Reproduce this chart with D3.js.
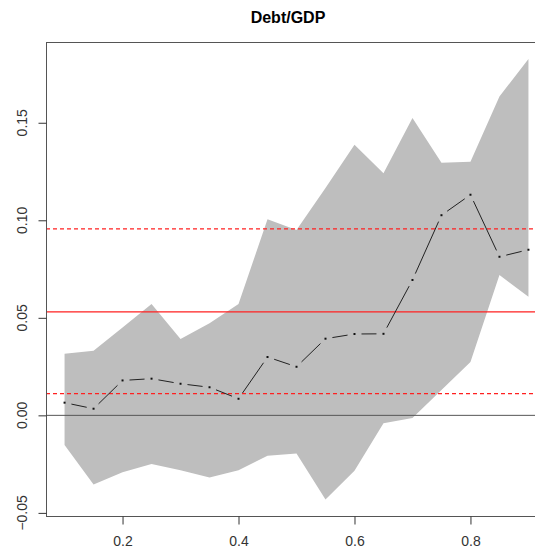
<!DOCTYPE html>
<html>
<head>
<meta charset="utf-8">
<script src="https://cdn.jsdelivr.net/npm/d3@7"></script>
<style>
    body { margin: 0; background: #fff; }
    svg { display: block; font-family: 'Liberation Sans', Arial, sans-serif; }
</style>
</head>
<body>
<div id="chart"></div>
<script>
// Quantile regression coefficients for Debt/GDP
const taus = [0.1, 0.15, 0.2, 0.25, 0.3, 0.35, 0.4, 0.45, 0.5, 0.55, 0.6, 0.65, 0.7, 0.75, 0.8, 0.85, 0.9];
const coef = [0.0065, 0.0034, 0.0179, 0.0188, 0.0162, 0.0144, 0.0085, 0.0299, 0.0249, 0.0393, 0.0417, 0.0418, 0.0694, 0.1026, 0.1131, 0.0813, 0.0849];
const upper = [0.0316, 0.0331, 0.0450, 0.0571, 0.0391, 0.0472, 0.0571, 0.1005, 0.0950, 0.1165, 0.1387, 0.1241, 0.1525, 0.1295, 0.1300, 0.1635, 0.1827];
const lower = [-0.0152, -0.0354, -0.0292, -0.0250, -0.0281, -0.0318, -0.0281, -0.0207, -0.0195, -0.0431, -0.0284, -0.0041, -0.0014, 0.0130, 0.0273, 0.0719, 0.0608];
// OLS estimate and its confidence bounds
const olsCoef = 0.053;
const olsBounds = [0.0111, 0.0956];
const xTicks = [0.2, 0.4, 0.6, 0.8];
const yTicks = [-0.05, 0, 0.05, 0.1, 0.15];

const width = 535, height = 550;
const plot = { left: 46, top: 42, right: 547, bottom: 516 };

const svg = d3.select("#chart").append("svg")
    .attr("width", width)
    .attr("height", height);

const x = d3.scaleLinear().domain([0.068, 0.932]).range([plot.left, plot.right]);
const y = d3.scaleLinear().domain([-0.0516, 0.1914]).range([plot.bottom, plot.top]);

svg.append("clipPath").attr("id", "plotclip")
    .append("rect")
    .attr("x", plot.left).attr("y", plot.top)
    .attr("width", plot.right - plot.left).attr("height", plot.bottom - plot.top);

const g = svg.append("g").attr("clip-path", "url(#plotclip)");

// confidence band
const area = d3.area()
    .x((d, i) => x(taus[i]))
    .y0((d, i) => y(lower[i]))
    .y1((d, i) => y(upper[i]));

g.append("path")
    .datum(taus)
    .attr("d", area)
    .attr("fill", "#bebebe");

// zero line
g.append("line")
    .attr("x1", plot.left).attr("x2", plot.right)
    .attr("y1", y(0)).attr("y2", y(0))
    .attr("stroke", "#555")
    .attr("stroke-width", 1);

// OLS line and bounds
g.append("line")
    .attr("x1", plot.left).attr("x2", plot.right)
    .attr("y1", y(olsCoef)).attr("y2", y(olsCoef))
    .attr("stroke", "#ff2020")
    .attr("stroke-width", 1.3);

g.selectAll(".ols-bound")
    .data(olsBounds)
    .enter().append("line")
    .attr("class", "ols-bound")
    .attr("x1", plot.left).attr("x2", plot.right)
    .attr("y1", d => y(d)).attr("y2", d => y(d))
    .attr("stroke", "#ff2020")
    .attr("stroke-width", 1.2)
    .attr("stroke-dasharray", "4,3");

// coefficient path, drawn like R type = "b" (gaps around the points)
const gap = 7;
const pts = taus.map((t, i) => [x(t), y(coef[i])]);
const segs = [];
for (let i = 0; i < pts.length - 1; i++) {
    const [x0, y0] = pts[i], [x1, y1] = pts[i + 1];
    const len = Math.hypot(x1 - x0, y1 - y0);
    if (len <= 2 * gap) continue;
    const ux = (x1 - x0) / len, uy = (y1 - y0) / len;
    segs.push([x0 + ux * gap, y0 + uy * gap, x1 - ux * gap, y1 - uy * gap]);
}

g.selectAll(".seg")
    .data(segs)
    .enter().append("line")
    .attr("class", "seg")
    .attr("x1", d => d[0]).attr("y1", d => d[1])
    .attr("x2", d => d[2]).attr("y2", d => d[3])
    .attr("stroke", "#222")
    .attr("stroke-width", 1);

g.selectAll(".pt")
    .data(pts)
    .enter().append("rect")
    .attr("class", "pt")
    .attr("x", d => d[0] - 1).attr("y", d => d[1] - 1)
    .attr("width", 2).attr("height", 2)
    .attr("fill", "#111");

// box
svg.append("rect")
    .attr("x", plot.left + 0.5).attr("y", plot.top + 0.5)
    .attr("width", plot.right - plot.left).attr("height", plot.bottom - plot.top)
    .attr("fill", "none")
    .attr("stroke", "#555")
    .attr("stroke-width", 1);

// axes
const xAxis = svg.append("g")
    .attr("transform", `translate(0,${plot.bottom + 0.5})`)
    .call(d3.axisBottom(x).tickValues(xTicks).tickSize(8).tickPadding(12).tickFormat(d3.format(".1f")));

const yAxis = svg.append("g")
    .attr("transform", `translate(${plot.left + 0.5},0)`)
    .call(d3.axisLeft(y).tickValues(yTicks).tickSize(8).tickFormat(d3.format(".2f")));

[xAxis, yAxis].forEach(ax => {
    ax.select(".domain").remove();
    ax.selectAll("line").attr("stroke", "#333");
    ax.selectAll("text")
        .attr("fill", "#333")
        .style("font-size", "14px")
        .style("font-family", "'Liberation Sans', Arial, sans-serif");
});

yAxis.selectAll("text")
    .attr("transform", d => `translate(-24,${y(d)}) rotate(-90)`)
    .attr("x", 0).attr("y", 0).attr("dy", "0.35em")
    .attr("text-anchor", "middle");
yAxis.selectAll(".tick").attr("transform", null);
yAxis.selectAll(".tick line")
    .attr("y1", d => y(d) + 0.5).attr("y2", d => y(d) + 0.5);

// title
svg.append("text")
    .attr("x", 288)
    .attr("y", 23)
    .attr("text-anchor", "middle")
    .style("font-size", "16px")
    .style("font-weight", "bold")
    .attr("fill", "#000")
    .text("Debt/GDP");
</script>
</body>
</html>
